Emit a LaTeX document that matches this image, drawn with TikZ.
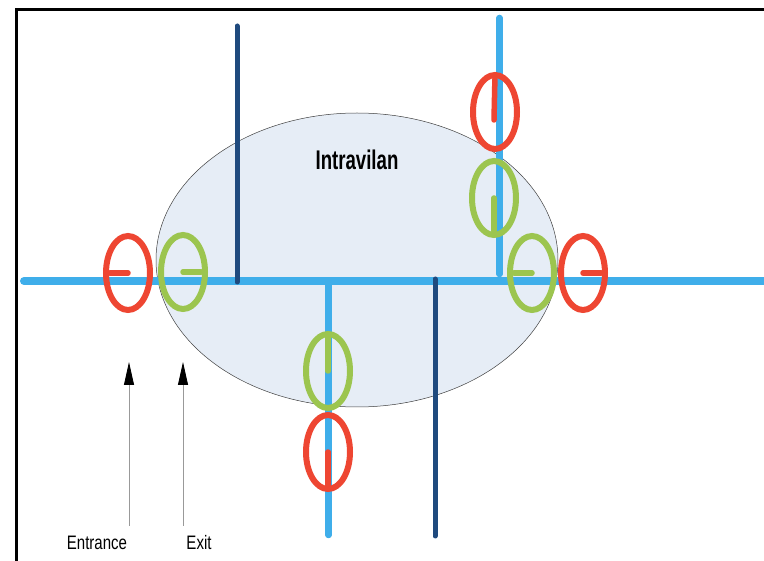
\documentclass[tikz,border=0pt]{standalone}
\usepackage{fontspec}
\setmainfont{Liberation Sans}
\newfontfamily\titlefont[FakeStretch=0.69]{Liberation Sans}
\newfontfamily\labelfont[FakeStretch=0.77]{Liberation Sans}
\usetikzlibrary{arrows.meta,shapes.geometric}
\definecolor{roadblue}{HTML}{3FAEEA}
\definecolor{darkroad}{HTML}{1F4A7E}
\definecolor{ringred}{HTML}{EE4632}
\definecolor{ringgreen}{HTML}{9CC54F}
\definecolor{zonefill}{HTML}{E6EDF6}
\tikzset{
  frameline/.style={line width=3pt, black},
  zone/.style={ellipse, draw=black!75, line width=0.5pt, fill=zonefill, inner sep=0pt, outer sep=0pt, minimum width=402pt, minimum height=294pt},
  mainroad/.style={line width=8pt, roadblue, line cap=round},
  sideroad/.style={line width=6.5pt, roadblue, line cap=round},
  darkline/.style={line width=5pt, darkroad, line cap=round},
  ringnode/.style={ellipse, draw=#1, line width=6pt, inner sep=0pt, outer sep=0pt, minimum width=44pt, minimum height=74pt},
  stub/.style={line width=5.5pt, #1, line cap=round, shorten >=4pt},
  ptr/.style={draw=black!40, line width=0.8pt, -{Triangle[length=23pt,width=10pt,black]}},
  lbl/.style={font=\labelfont\fontsize{19.5}{20}\selectfont, inner sep=0pt},
  ttl/.style={font=\titlefont\bfseries\fontsize{27}{28}\selectfont, inner sep=0pt}
}
\begin{document}
\begin{tikzpicture}[x=1pt,y=-1pt]
\useasboundingbox[fill=white] (0,0) rectangle (764,561);
% frame
\draw[frameline] (16,562) -- (16,10) -- (765,10);
% zone
\node[zone] (zone) at (357,260) {};
\node[ttl] (title) at (357,159.5) {Intravilan};
% roads
\coordinate (mainW) at (24,281);
\coordinate (mainE) at (770,281);
\draw[mainroad] (mainW) -- (mainE);
\coordinate (topT) at (499.5,18);
\coordinate (topB) at (499.5,274);
\draw[sideroad] (topT) -- (topB);
\coordinate (botT) at (328.5,284);
\coordinate (botB) at (328.5,535);
\draw[sideroad] (botT) -- (botB);
% dark lines
\coordinate (d1T) at (237,26);
\coordinate (d1B) at (237,282);
\draw[darkline] (d1T) -- (d1B);
\coordinate (d2T) at (435,279);
\coordinate (d2B) at (435,536);
\draw[darkline] (d2T) -- (d2B);
% rings
\node[ringnode=ringred] (lr) at (128,273) {};
\draw[stub=ringred] (lr.center) -- (lr.west);
\node[ringnode=ringgreen] (lg) at (183,272) {};
\draw[stub=ringgreen] (lg.center) -- (lg.east);
\node[ringnode=ringgreen] (rg) at (532,273) {};
\draw[stub=ringgreen] (rg.center) -- (rg.west);
\node[ringnode=ringred] (rr) at (583,273) {};
\draw[stub=ringred] (rr.center) -- (rr.east);
\node[ringnode=ringred] (tr) at (495,112) {};
\coordinate (trs) at (494,120);
\draw[stub=ringred] (trs) -- (tr.north);
\node[ringnode=ringgreen] (tg) at (494,198) {};
\draw[stub=ringgreen] (tg.center) -- (tg.south);
\node[ringnode=ringgreen] (bg) at (328,371) {};
\draw[stub=ringgreen] (bg.center) -- (bg.north);
\node[ringnode=ringred] (br) at (328,452) {};
\draw[stub=ringred] (br.center) -- (br.south);
% labels and pointers
\node[lbl] (entr) at (97,543) {Entrance};
\node[lbl] (exit) at (199,543) {Exit};
\coordinate (entrFoot) at (129,526);
\coordinate (entrTip) at (129,362);
\draw[ptr] (entrFoot) -- (entrTip);
\coordinate (exitFoot) at (183,526);
\coordinate (exitTip) at (183,362);
\draw[ptr] (exitFoot) -- (exitTip);
\end{tikzpicture}
\end{document}
